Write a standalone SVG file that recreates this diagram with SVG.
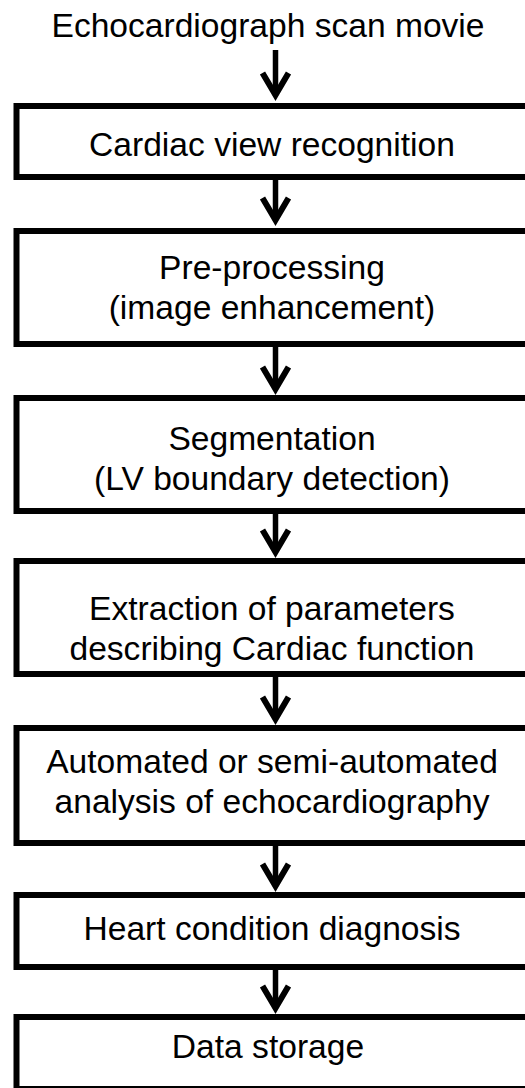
<svg xmlns="http://www.w3.org/2000/svg" width="525" height="1088" viewBox="0 0 525 1088">
  <style>
    .box { fill: #ffffff; stroke: #000000; stroke-width: 6; }
    .lbl { font-family: "Liberation Sans", Arial, sans-serif; font-size: 33.6px; fill: #000000; text-anchor: middle; }
    .shaft { stroke: #000000; stroke-width: 5.5; fill: none; }
    .head { stroke: #000000; stroke-width: 6; fill: none; stroke-linejoin: miter; stroke-miterlimit: 10; }
  </style>
  <rect width="525" height="1088" fill="#ffffff"/>

  <g id="source">
    <text class="lbl" x="268" y="37">Echocardiograph scan movie</text>
  </g>

  <g id="connectors">
    <line class="shaft" x1="275.5" y1="50" x2="275.5" y2="94"/>
    <polyline class="head" points="262.5,73 275.5,95 288.5,73"/>
    <line class="shaft" x1="275.5" y1="180" x2="275.5" y2="219"/>
    <polyline class="head" points="262.5,198 275.5,220 288.5,198"/>
    <line class="shaft" x1="275.5" y1="347" x2="275.5" y2="388"/>
    <polyline class="head" points="262.5,367 275.5,389 288.5,367"/>
    <line class="shaft" x1="275.5" y1="514" x2="275.5" y2="551"/>
    <polyline class="head" points="262.5,530 275.5,552 288.5,530"/>
    <line class="shaft" x1="275.5" y1="677" x2="275.5" y2="718"/>
    <polyline class="head" points="262.5,697 275.5,719 288.5,697"/>
    <line class="shaft" x1="275.5" y1="846" x2="275.5" y2="885"/>
    <polyline class="head" points="262.5,864 275.5,886 288.5,864"/>
    <line class="shaft" x1="275.5" y1="970" x2="275.5" y2="1007"/>
    <polyline class="head" points="262.5,986 275.5,1008 288.5,986"/>
  </g>

  <g id="view-recognition">
    <rect class="box" x="16.5" y="106" width="520" height="71"/>
    <text class="lbl" x="272" y="156">Cardiac view recognition</text>
  </g>

  <g id="pre-processing">
    <rect class="box" x="16.5" y="231" width="520" height="113"/>
    <text class="lbl" x="272" y="279">Pre-processing</text>
    <text class="lbl" x="272" y="319">(image enhancement)</text>
  </g>

  <g id="segmentation">
    <rect class="box" x="16.5" y="398" width="520" height="113"/>
    <text class="lbl" x="272" y="450">Segmentation</text>
    <text class="lbl" x="272" y="490">(LV boundary detection)</text>
  </g>

  <g id="parameter-extraction">
    <rect class="box" x="16.5" y="561" width="520" height="113"/>
    <text class="lbl" x="272" y="620">Extraction of parameters</text>
    <text class="lbl" x="272" y="660">describing Cardiac function</text>
  </g>

  <g id="automated-analysis">
    <rect class="box" x="16.5" y="728" width="520" height="115"/>
    <text class="lbl" x="272" y="773">Automated or semi-automated</text>
    <text class="lbl" x="272" y="813">analysis of echocardiography</text>
  </g>

  <g id="diagnosis">
    <rect class="box" x="16.5" y="895" width="520" height="72"/>
    <text class="lbl" x="272" y="940">Heart condition diagnosis</text>
  </g>

  <g id="data-storage">
    <rect class="box" x="16.5" y="1017" width="520" height="72"/>
    <text class="lbl" x="268" y="1058">Data storage</text>
  </g>
</svg>
